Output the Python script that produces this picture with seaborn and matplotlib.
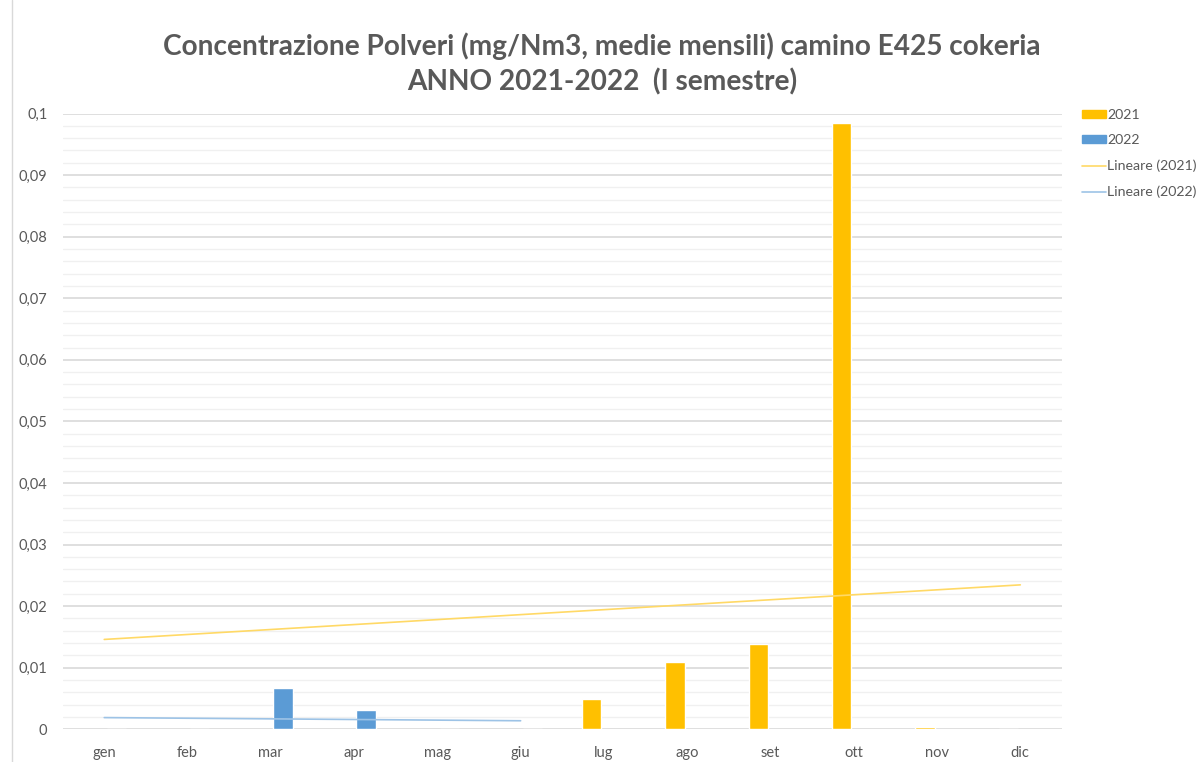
import numpy as np
import pandas as pd
import matplotlib
matplotlib.use("Agg")
import matplotlib.pyplot as plt
import seaborn as sns
from matplotlib.patches import Patch
from matplotlib.lines import Line2D
from matplotlib.ticker import MultipleLocator, FuncFormatter

mesi = ['gen', 'feb', 'mar', 'apr', 'mag', 'giu', 'lug', 'ago', 'set', 'ott', 'nov', 'dic']
# 2021: dati solo da luglio a dicembre
polveri_2021 = [np.nan, np.nan, np.nan, np.nan, np.nan, np.nan, 0.0049, 0.0110, 0.0139, 0.0984, 0.0004, 0.0]
# 2022: primo semestre
polveri_2022 = [0.0, 0.0, 0.0067, 0.0031, 0.0, 0.0, np.nan, np.nan, np.nan, np.nan, np.nan, np.nan]

col_2021 = '#FFC000'
col_2022 = '#5B9BD5'
grigio = '#595959'

df = pd.DataFrame({'mese': mesi * 2,
                   'anno': ['2021'] * 12 + ['2022'] * 12,
                   'valore': polveri_2021 + polveri_2022})

sns.set_theme(style='white')
plt.rcParams['font.family'] = ['Lato', 'DejaVu Sans']

fig = plt.figure(figsize=(12.04, 7.62), dpi=100)
ax = fig.add_axes([0.052, 0.043, 0.83, 0.808])

sns.barplot(data=df, x='mese', y='valore', hue='anno', order=mesi,
            palette={'2021': col_2021, '2022': col_2022}, saturation=1,
            width=0.58, gap=0.2, ax=ax, legend=False, zorder=3)

# linee di tendenza (regressione lineare, come Excel)
x = np.arange(12)
y21 = np.array(polveri_2021)
m21 = ~np.isnan(y21)
k21 = np.polyfit(x[m21], y21[m21], 1)
ax.plot(x, np.polyval(k21, x), color='#FFD966', lw=1.2, zorder=4)

y22 = np.array(polveri_2022)
m22 = ~np.isnan(y22)
k22 = np.polyfit(x[m22], y22[m22], 1)
ax.plot(x[m22], np.polyval(k22, x[m22]), color='#9DC3E6', lw=1.2, zorder=4)

ax.set_ylim(0, 0.1)
ax.set_xlim(-0.5, 11.5)
ax.yaxis.set_major_locator(MultipleLocator(0.01))
ax.yaxis.set_minor_locator(MultipleLocator(0.002))
ax.yaxis.set_major_formatter(FuncFormatter(lambda v, p: ('%g' % round(v, 3)).replace('.', ',')))
ax.grid(which='major', axis='y', color='#D9D9D9', lw=1.2, zorder=0)
ax.grid(which='minor', axis='y', color='#F0F0F0', lw=1.0, zorder=0)
ax.set_axisbelow(True)
for s in ax.spines.values():
    s.set_visible(False)
ax.tick_params(axis='both', which='both', length=0, labelsize=10.5, colors=grigio, pad=12)
ax.tick_params(axis='y', pad=11)
ax.set_xlabel('')
ax.set_ylabel('')

fig.suptitle('Concentrazione Polveri (mg/Nm3, medie mensili) camino E425 cokeria\nANNO 2021-2022  (I semestre)',
             x=0.5, y=0.958, fontsize=20.2, fontweight='bold', color=grigio, linespacing=1.4)

handles = [Patch(color=col_2021, label='2021'),
           Patch(color=col_2022, label='2022'),
           Line2D([], [], color='#FFD966', lw=1.2, label='Lineare (2021)'),
           Line2D([], [], color='#9DC3E6', lw=1.2, label='Lineare (2022)')]
leg = fig.legend(handles=handles, loc='upper left', bbox_to_anchor=(0.888, 0.874),
                 frameon=False, fontsize=10.2, handlelength=1.7, handleheight=0.5,
                 handletextpad=0.1, labelspacing=0.95, labelcolor=grigio)

# bordo sinistro del grafico
fig.add_artist(Line2D([0.01, 0.01], [0, 1], transform=fig.transFigure, color='#D9D9D9', lw=1))

fig.savefig('out.png', dpi=100, facecolor='white')
